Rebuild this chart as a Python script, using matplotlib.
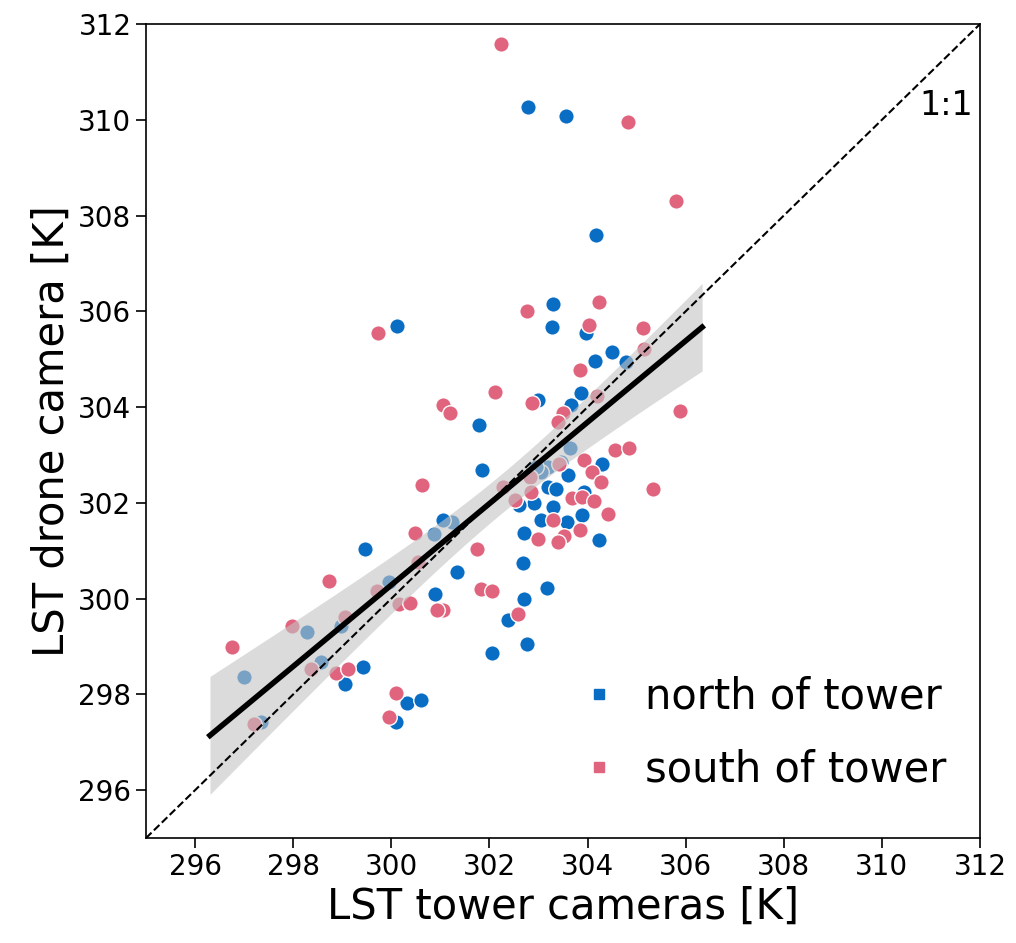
import matplotlib
matplotlib.use("Agg")
import matplotlib.pyplot as plt
from matplotlib.lines import Line2D
import numpy as np

# LST values [K]
north_x = [302.79, 303.56, 304.18, 300.12, 303.30, 303.27, 303.97, 304.16, 304.50, 304.78,
           303.87, 303.66, 302.98, 301.79, 303.65, 304.30, 301.85, 303.20, 303.06, 303.60,
           303.20, 303.35, 303.92, 302.91, 302.61, 303.30, 303.89, 303.06, 303.58, 302.71,
           304.23, 302.68, 301.34, 303.18, 302.71, 302.37, 302.77, 302.05, 301.23, 301.05,
           300.88, 299.46, 299.95, 300.90, 298.29, 298.98, 298.57, 296.99, 299.43, 299.06,
           297.34, 300.32, 300.60, 300.10, 302.95, 303.45]
north_y = [310.27, 310.07, 307.59, 305.70, 306.15, 305.67, 305.54, 304.96, 305.15, 304.94,
           304.30, 304.04, 304.14, 303.62, 303.14, 302.82, 302.68, 302.75, 302.65, 302.58,
           302.33, 302.30, 302.23, 301.99, 301.95, 301.92, 301.74, 301.64, 301.60, 301.37,
           301.22, 300.75, 300.55, 300.23, 300.00, 299.55, 299.05, 298.86, 301.60, 301.64,
           301.35, 301.03, 300.35, 300.09, 299.31, 299.43, 298.68, 298.37, 298.58, 298.21,
           297.43, 297.82, 297.88, 297.43, 302.75, 302.85]

south_x = [302.23, 304.82, 305.81, 304.24, 302.77, 299.73, 304.02, 305.13, 305.16, 303.85,
           302.11, 302.87, 301.06, 301.19, 304.20, 303.49, 303.40, 305.88, 304.56, 304.84,
           303.42, 303.92, 304.10, 304.27, 305.33, 302.27, 302.82, 302.85, 302.53, 303.68,
           303.89, 304.13, 304.42, 303.30, 303.85, 302.98, 303.53, 303.40, 301.75, 301.83,
           302.06, 302.59, 301.06, 300.62, 300.48, 300.55, 298.72, 299.70, 299.06, 297.98,
           296.76, 298.36, 298.88, 299.12, 297.20, 300.10, 299.96, 300.15, 300.38, 300.94]
south_y = [311.58, 309.95, 308.30, 306.20, 306.00, 305.55, 305.71, 305.66, 305.22, 304.77,
           304.32, 304.09, 304.04, 303.88, 304.23, 303.88, 303.69, 303.92, 303.11, 303.14,
           302.82, 302.90, 302.65, 302.44, 302.30, 302.33, 302.54, 302.23, 302.07, 302.11,
           302.13, 302.04, 301.76, 301.64, 301.44, 301.24, 301.30, 301.19, 301.03, 300.21,
           300.16, 299.68, 299.77, 302.38, 301.37, 300.77, 300.37, 300.16, 299.61, 299.43,
           298.99, 298.52, 298.45, 298.54, 297.39, 298.02, 297.52, 299.89, 299.90, 299.76]

blue = "#0a6dc4"
pink = "#e0647e"

fig = plt.figure(figsize=(10.16, 9.43), dpi=100)
ax = fig.add_axes([0.1437, 0.1113, 0.8209, 0.8632])

ax.scatter(north_x, north_y, s=125, c=blue, edgecolors="white", linewidths=1.0, zorder=2)
ax.scatter(south_x, south_y, s=125, c=pink, edgecolors="white", linewidths=1.0, zorder=2)

# linear fit on all points + 95% CI of the mean
x = np.array(north_x + south_x)
y = np.array(north_y + south_y)
b, a = np.polyfit(x, y, 1)
pad = 0.05 * (x.max() - x.min())
xs = np.linspace(x.min() - pad, x.max() + pad, 100)
ys = a + b * xs
res = y - (a + b * x)
s = np.sqrt(np.sum(res ** 2) / (len(x) - 2))
se = s * np.sqrt(1 / len(x) + (xs - x.mean()) ** 2 / np.sum((x - x.mean()) ** 2))
ax.fill_between(xs, ys - 1.98 * se, ys + 1.98 * se, color="#c4c4c4", alpha=0.6, lw=0, zorder=3)
ax.plot(xs, ys, color="black", lw=4, zorder=4)

ax.plot([295, 312], [295, 312], "k--", lw=1.5, zorder=5)
ax.text(311.85, 310.3, "1:1", fontsize=24, ha="right", va="center")

ax.set_xlim(295, 312)
ax.set_ylim(295, 312)
ax.set_xticks(range(296, 313, 2))
ax.set_yticks(range(296, 313, 2))
ax.tick_params(labelsize=20, length=7, width=1.2)
for sp in ax.spines.values():
    sp.set_linewidth(1.2)
ax.set_xlabel("LST tower cameras [K]", fontsize=30)
ax.set_ylabel("LST drone camera [K]", fontsize=30)

handles = [Line2D([], [], marker="s", ls="", color=blue, markersize=7),
           Line2D([], [], marker="s", ls="", color=pink, markersize=7)]
ax.legend(handles, ["north of tower", "south of tower"], loc="lower right",
          bbox_to_anchor=(1.005, 0.012), fontsize=30, frameon=False,
          handlelength=0.6, handletextpad=0.8, labelspacing=0.75, borderaxespad=0.5)

fig.savefig("out.png", dpi=100)
